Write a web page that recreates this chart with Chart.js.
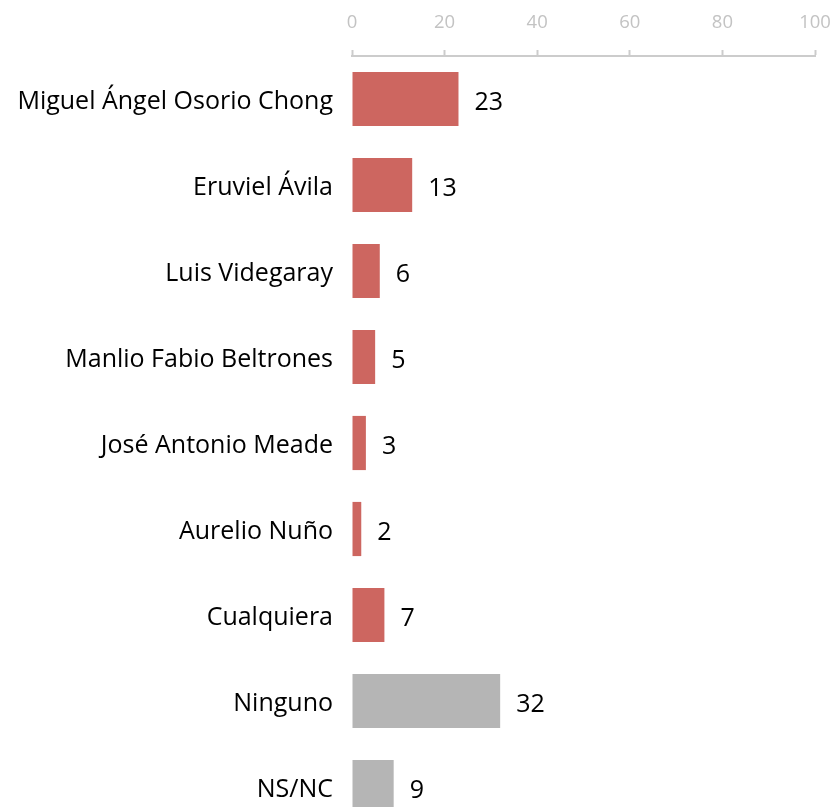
<!DOCTYPE html>
<html>
<head>
<meta charset="utf-8">
<script src="https://cdn.jsdelivr.net/npm/chart.js@4"></script>
<style>
  html, body { margin: 0; padding: 0; overflow: hidden; background: #fff; }
</style>
</head>
<body>
<canvas id="barChart" width="835" height="830"></canvas>
<script>
const categories = ["Miguel Ángel Osorio Chong", "Eruviel Ávila", "Luis Videgaray", "Manlio Fabio Beltrones",
  "José Antonio Meade", "Aurelio Nuño", "Cualquiera", "Ninguno", "NS/NC"];
const values = [23, 13, 6, 5, 3, 2, 7, 32, 9];
const barColors = ["#cd6660", "#cd6660", "#cd6660", "#cd6660", "#cd6660", "#cd6660", "#cd6660", "#b5b5b5", "#b5b5b5"];
const xTicks = [0, 20, 40, 60, 80, 100];

const FONT = "'Open Sans', sans-serif";

const valueLabels = {
  id: 'valueLabels',
  afterDatasetsDraw(chart) {
    const ctx = chart.ctx;
    const meta = chart.getDatasetMeta(0);
    ctx.save();
    ctx.font = "25px " + FONT;
    ctx.fillStyle = "#000";
    ctx.textBaseline = "middle";
    ctx.textAlign = "left";
    meta.data.forEach((bar, i) => {
      ctx.fillText(String(values[i]), bar.x + 16, bar.y + 4);
    });
    ctx.restore();
  }
};

new Chart(document.getElementById("barChart"), {
  type: 'bar',
  data: {
    labels: categories,
    datasets: [{
      data: values,
      backgroundColor: barColors,
      borderWidth: 0,
      categoryPercentage: 0.63,
      barPercentage: 1
    }]
  },
  options: {
    indexAxis: 'y',
    responsive: false,
    animation: false,
    layout: { padding: { left: 0, right: 20, top: 0, bottom: 0 } },
    plugins: { legend: { display: false }, tooltip: { enabled: false } },
    scales: {
      x: {
        position: 'top',
        min: 0,
        max: 100,
        afterBuildTicks(scale) { scale.ticks = xTicks.map(v => ({ value: v })); },
        afterFit(scale) {
          scale.height = 56;
          scale.paddingRight = 0;
        },
        grid: { drawOnChartArea: false, tickLength: 6, tickWidth: 2, color: '#cccccc' },
        border: { color: '#cccccc', width: 2 },
        ticks: { color: '#c3c3c3', font: { family: FONT, size: 18.5 }, padding: 16 }
      },
      y: {
        afterFit(scale) {
          scale.width = 352;
          scale.paddingTop = 0;
          scale.paddingBottom = 0;
        },
        grid: { display: false, drawTicks: false },
        border: { display: false },
        ticks: { color: '#000', font: { family: FONT, size: 25 }, padding: 19, labelOffset: 3 }
      }
    }
  },
  plugins: [valueLabels]
});
</script>
</body>
</html>
